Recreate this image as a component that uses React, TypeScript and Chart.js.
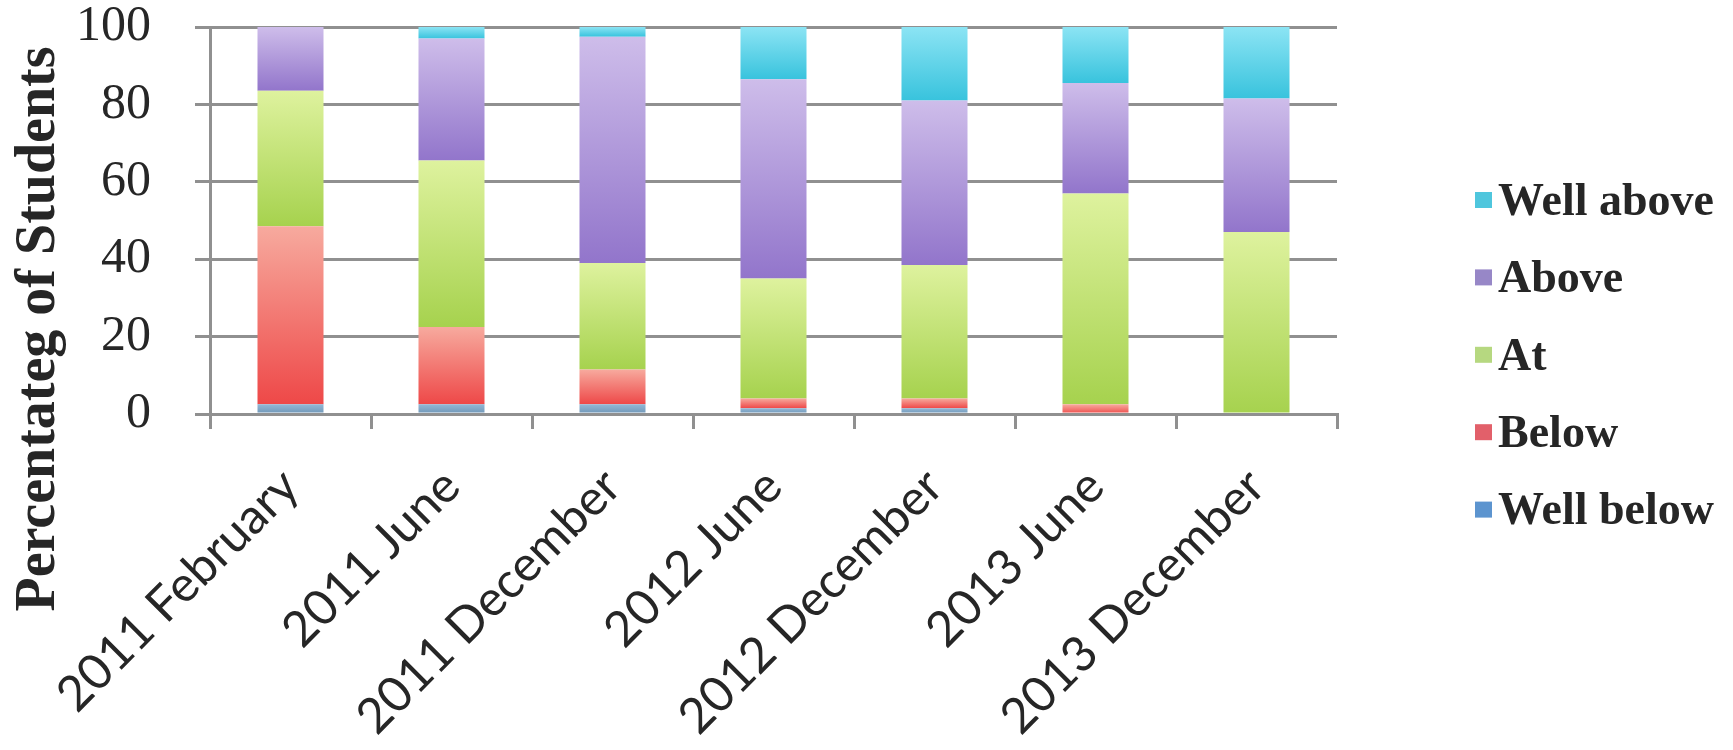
import React, { useEffect, useRef } from 'react';
import { Chart, registerables } from 'chart.js';

Chart.register(...registerables);

const categories = ['2011 February', '2011 June', '2011 December', '2012 June', '2012 December', '2013 June', '2013 December'];
const wellBelow = [2.5, 2.5, 2.5, 1.5, 1.5, 0, 0];
const below = [46, 20, 9, 2.5, 2.5, 2.5, 0];
const at = [35, 43, 27.5, 31, 34.5, 54.5, 47];
const above = [16.5, 31.5, 58.5, 51.5, 42.5, 28.5, 34.5];
const wellAbove = [0, 3, 2.5, 13.5, 19, 14.5, 18.5];
const seriesLabels = ['Well below', 'Below', 'At', 'Above', 'Well above'];
const yTickValues = [0, 20, 40, 60, 80, 100];
const yTitle = 'Percentateg of Students';

const seriesValues = [wellBelow, below, at, above, wellAbove];
const lightColors = ['#93B8D6', '#F7AA9E', '#DEF29E', '#CEBDEA', '#8CE4F4'];
const darkColors = ['#6E95B6', '#EE4848', '#A6D24E', '#9275CB', '#38C3DD'];
const swatchColors = ['#5C94CF', '#E2606A', '#B6D880', '#9787C7', '#4FC6DD'];

const GRID = '#909090';
const TEXT = '#262626';

function segmentFill(di: number) {
  return (ctx: any) => {
    const chart = ctx.chart;
    if (ctx.type !== 'data' || !chart.chartArea || !chart.scales || !chart.scales.y) return darkColors[di];
    const i = ctx.dataIndex;
    let base = 0;
    for (let k = 0; k < di; k++) base += seriesValues[k][i];
    const top = base + seriesValues[di][i];
    const yScale = chart.scales.y;
    const y0 = yScale.getPixelForValue(base);
    const y1 = yScale.getPixelForValue(top);
    if (!isFinite(y0) || !isFinite(y1) || Math.abs(y0 - y1) < 0.5) return darkColors[di];
    const g = chart.ctx.createLinearGradient(0, y1, 0, y0);
    g.addColorStop(0, lightColors[di]);
    g.addColorStop(1, darkColors[di]);
    return g;
  };
}

const titlePlugin = {
  id: 'yTitlePlugin',
  afterDraw(chart: any) {
    const c = chart.ctx;
    c.save();
    c.translate(40, 329);
    c.rotate(-Math.PI / 2);
    c.font = 'bold 56px "Liberation Serif"';
    c.fillStyle = TEXT;
    c.textAlign = 'center';
    c.textBaseline = 'middle';
    c.fillText(yTitle, 0, 0);
    c.restore();
  },
};

const legendPlugin = {
  id: 'sideLegend',
  afterDraw(chart: any) {
    const c = chart.ctx;
    c.save();
    c.font = 'bold 46px "Liberation Serif"';
    c.textBaseline = 'middle';
    c.textAlign = 'left';
    const order = [4, 3, 2, 1, 0];
    order.forEach((di, row) => {
      const y = 201 + row * 77.4;
      c.fillStyle = swatchColors[di];
      c.fillRect(1475, y - 9, 17, 16);
      c.fillStyle = TEXT;
      c.fillText(chart.data.datasets[di].label, 1498, y + 2);
    });
    c.restore();
  },
};

export default function App() {
  const canvasRef = useRef<HTMLCanvasElement | null>(null);

  useEffect(() => {
    document.body.style.margin = '0';
    const canvas = canvasRef.current;
    if (!canvas) return;
    const chart = new Chart(canvas, {
      type: 'bar',
      data: {
        labels: categories,
        datasets: seriesValues.map((vals, di) => ({
          label: seriesLabels[di],
          data: vals,
          backgroundColor: segmentFill(di),
          borderWidth: 0,
          categoryPercentage: 1,
          barPercentage: 0.41,
        })),
      },
      options: {
        animation: false,
        responsive: false,
        maintainAspectRatio: false,
        layout: { padding: { top: 27, right: 396, left: 0, bottom: 0 } },
        plugins: {
          legend: { display: false },
          tooltip: { enabled: false },
          title: { display: false },
        },
        scales: {
          x: {
            stacked: true,
            offset: true,
            grid: {
              display: true,
              drawOnChartArea: false,
              drawTicks: true,
              tickLength: 15,
              color: GRID,
              lineWidth: 3,
              offset: true,
            },
            border: { display: true, color: GRID, width: 3 },
            ticks: {
              autoSkip: false,
              minRotation: 45,
              maxRotation: 45,
              font: { family: 'Lato', size: 49, lineHeight: 1 },
              color: TEXT,
              padding: 32,
            },
            afterFit: (s: any) => {
              s.height = 336;
              s.paddingLeft = 0;
              s.paddingRight = 0;
            },
          },
          y: {
            stacked: true,
            min: 0,
            max: 100,
            afterBuildTicks: (s: any) => {
              s.ticks = yTickValues.map((v) => ({ value: v }));
            },
            grid: { color: GRID, lineWidth: 3, tickLength: 15 },
            border: { display: true, color: GRID, width: 3 },
            ticks: {
              font: { family: '"Liberation Serif"', size: 50, lineHeight: 1 },
              color: TEXT,
              padding: 44,
            },
            afterFit: (s: any) => {
              s.width = 210;
              s.paddingTop = 0;
              s.paddingBottom = 0;
            },
          },
        },
      },
      plugins: [titlePlugin, legendPlugin],
    });
    return () => chart.destroy();
  }, []);

  return (
    <div style={{ width: 1733, height: 750, position: 'relative', background: '#fff' }}>
      <canvas ref={canvasRef} width={1733} height={750} style={{ display: 'block', width: 1733, height: 750 }} />
    </div>
  );
}
